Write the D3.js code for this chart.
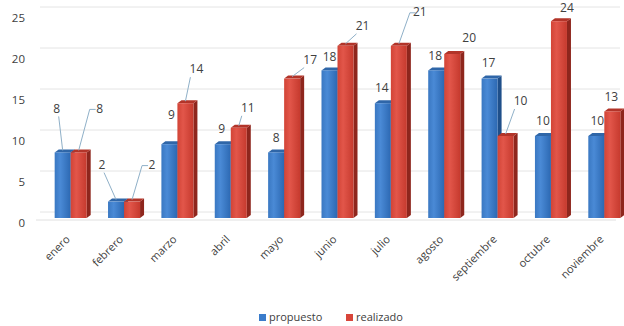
<!DOCTYPE html>
<html><head><meta charset="utf-8">
<script src="https://cdn.jsdelivr.net/npm/d3@7"></script>
<style>html,body{margin:0;padding:0;background:#fff;}svg{display:block;font-family:"Open Sans",sans-serif;}</style>
</head><body><div id="chart"></div>
<script>
const months = ["enero","febrero","marzo","abril","mayo","junio","julio","agosto","septiembre","octubre","noviembre"];
const propuesto = [8,2,9,9,8,18,14,18,17,10,10];
const realizado = [8,2,14,11,17,21,21,20,10,24,13];
const yTicks = [0,5,10,15,20,25];
const seriesNames = ["propuesto","realizado"];

// label layout offsets (relative to bar top centre) and leader flags
const blueLabelOff = [[-6,-43,1],[-14,-36,1],[2,-28,0],[-1,-14,0],[0,-14,0],[0,-13,0],[-1,-14,0],[-1,-14,0],[-1,-15,0],[0,-14,0],[1,-14,0]];
const redLabelOff  = [[21,-43,2],[20,-36,2],[11,-33,1],[9,-19,1],[18,-18,1],[17,-19,1],[21,-33,2],[17,-15,0],[15,-34,1],[8,-12,0],[-1,-14,0]];

const W = 624, H = 326;
const svg = d3.select("#chart").append("svg").attr("width", W).attr("height", H);
const defs = svg.append("defs");
function grad(id, stops){
  const g = defs.append("linearGradient").attr("id", id).attr("x1","0").attr("x2","1").attr("y1","0").attr("y2","0");
  stops.forEach(s => g.append("stop").attr("offset", s[0]).attr("stop-color", s[1]));
}
grad("gBlue", [[0,"#3a78c2"],[0.35,"#4a8ad6"],[1,"#2c68b2"]]);
grad("gRed", [[0,"#d24436"],[0.35,"#e2564a"],[1,"#c63a2e"]]);

const y = d3.scaleLinear().domain([0,25]).range([218,13]);
const x = d3.scaleBand().domain(months).range([44,631]).paddingInner(0.4).paddingOuter(0.2);
const sub = d3.scaleBand().domain(seriesNames).range([0, x.bandwidth()]);
const dx = 4, dy = 3;

// back-wall gridlines
svg.append("g").selectAll("line").data(yTicks).join("line")
  .attr("x1", 40).attr("x2", 620)
  .attr("y1", d => y(d) - 6).attr("y2", d => y(d) - 6)
  .attr("stroke", "#e4e4e4").attr("stroke-width", 1);
// floor front edge
svg.append("line").attr("x1", 36).attr("x2", 616).attr("y1", y(0)+2).attr("y2", y(0)+2)
  .attr("stroke", "#e0e0e0");

// y tick labels
svg.append("g").selectAll("text").data(yTicks).join("text")
  .attr("x", 25).attr("y", d => y(d) + 6).attr("text-anchor", "end").attr("dominant-baseline", "middle")
  .attr("font-size", 11.5).attr("fill", "#404040").text(d => d);

function drawBar(g, x0, w, v, front, side, top){
  const t = y(v), b = y(0);
  g.append("polygon").attr("points", [[x0+w,t],[x0+w+dx,t-dy],[x0+w+dx,b-dy],[x0+w,b]].join(" ")).attr("fill", side);
  g.append("polygon").attr("points", [[x0,t],[x0+dx,t-dy],[x0+w+dx,t-dy],[x0+w,t]].join(" ")).attr("fill", top);
  g.append("rect").attr("x", x0).attr("y", t).attr("width", w).attr("height", b - t).attr("fill", front);
}

const bars = svg.append("g");
months.forEach((m, i) => {
  const g = bars.append("g");
  drawBar(g, x(m) + sub("propuesto"), sub.bandwidth(), propuesto[i], "url(#gBlue)", "#1f4f8a", "#2f66a8");
  drawBar(g, x(m) + sub("realizado"), sub.bandwidth(), realizado[i], "url(#gRed)", "#8e261d", "#b23429");
});

// value labels + leaders
const lab = svg.append("g").attr("font-size", 12).attr("fill", "#404040");
function label(cx, v, off){
  const tx = cx + off[0], ty = y(v) + off[1];
  lab.append("text").attr("x", tx).attr("y", ty).attr("text-anchor", "middle").attr("dominant-baseline", "middle").text(v);
  if (off[2] === 1){
    const sx = off[0] > 2 ? tx - 6 : tx + (off[0] < -2 ? 2 : 0);
    lab.append("line").attr("x1", sx).attr("y1", ty + 7).attr("x2", cx).attr("y2", y(v) - 2)
      .attr("stroke", "#8fb0c8").attr("stroke-width", 1);
  } else if (off[2] === 2){
    const hx = tx - 8;
    lab.append("polyline").attr("points", [[hx + 4, ty],[hx - 2, ty],[cx, y(v) - 2]].join(" "))
      .attr("fill", "none").attr("stroke", "#8fb0c8").attr("stroke-width", 1);
  }
}
months.forEach((m, i) => {
  label(x(m) + sub("propuesto") + sub.bandwidth()/2, propuesto[i], blueLabelOff[i]);
  label(x(m) + sub("realizado") + sub.bandwidth()/2, realizado[i], redLabelOff[i]);
});

// x labels
svg.append("g").selectAll("text").data(months).join("text")
  .attr("transform", d => `translate(${x(d) + x.bandwidth()/2},${y(0) + 22}) rotate(-45)`)
  .attr("text-anchor", "end").attr("font-size", 11).attr("fill", "#404040").text(d => d);

// legend
const leg = svg.append("g").attr("font-size", 11).attr("fill", "#404040");
const legItems = [["propuesto", "#3a7ccb", 259], ["realizado", "#d8453a", 346]];
legItems.forEach(([name, col, lx]) => {
  leg.append("rect").attr("x", lx).attr("y", 314).attr("width", 7).attr("height", 7).attr("fill", col);
  leg.append("text").attr("x", lx + 10).attr("y", 318).attr("dominant-baseline", "middle").text(name);
});
</script></body></html>
